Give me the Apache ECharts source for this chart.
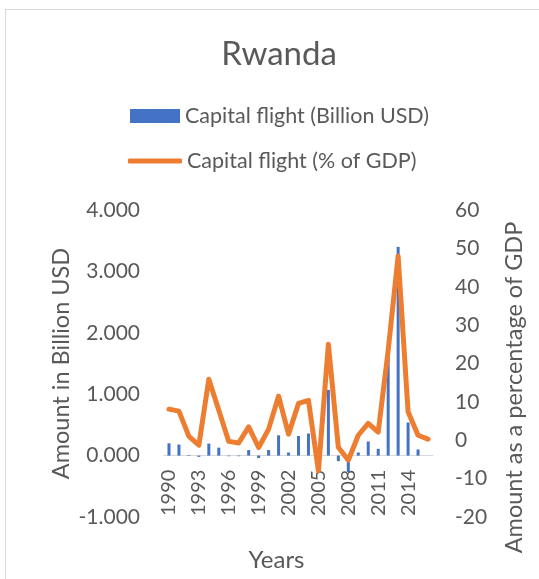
<!DOCTYPE html>
<html>
<head>
<meta charset="utf-8">
<script src="https://cdn.jsdelivr.net/npm/echarts@6/dist/echarts.min.js"></script>
<style>
  html, body { margin: 0; padding: 0; background: #fff; }
  #frame { position: absolute; left: 5px; top: 9px; width: 600px; height: 600px; border: 1px solid #d9d9d9; box-sizing: border-box; }
  #chart { position: absolute; left: 0; top: 0; width: 539px; height: 579px; }
</style>
</head>
<body>
<div id="frame"></div>
<div id="chart"></div>
<script>
// Rwanda capital flight, 1990-2016
const years = [1990, 1991, 1992, 1993, 1994, 1995, 1996, 1997, 1998, 1999,
               2000, 2001, 2002, 2003, 2004, 2005, 2006, 2007, 2008, 2009,
               2010, 2011, 2012, 2013, 2014, 2015, 2016];

// Capital flight in billion USD (left axis)
const flightUsd = [0.20, 0.18, 0.01, -0.02, 0.195, 0.13, -0.01, -0.01, 0.09, -0.04,
                   0.09, 0.33, 0.05, 0.32, 0.36, -0.15, 1.07, -0.09, -0.27, 0.05,
                   0.23, 0.11, 1.60, 3.40, 0.54, 0.10, 0.0];

// Capital flight as % of GDP (right axis)
const flightPct = [8.1, 7.6, 1.0, -1.3, 15.9, 7.8, -0.3, -0.7, 3.5, -1.9,
                   2.9, 11.5, 1.6, 9.6, 10.4, -8.0, 25.0, -1.8, -5.2, 1.3,
                   4.4, 2.1, 23.4, 48.0, 7.4, 1.3, 0.3];

// Left axis range: the category axis sits on its zero line
const usdMin = -1, usdMax = 4, usdStep = 1;
const pctMin = -20, pctMax = 60, pctStep = 10;

const FONT = 'Lato, "Open Sans", sans-serif';
const GREY = '#595959';
const BLUE = '#4472C4';
const ORANGE = '#ED7D31';

const GRID = { left: 164, right: 106, top: 210, bottom: 62 };
const plotHeight = 579 - GRID.top - GRID.bottom;
// distance from the bottom of the plot up to the zero of the left axis
const zeroLift = plotHeight * (0 - usdMin) / (usdMax - usdMin);

const legendText = { fontFamily: FONT, fontSize: 21.5, color: GREY };

const chart = echarts.init(document.getElementById('chart'), null, { renderer: 'canvas' });

chart.setOption({
  animation: false,
  backgroundColor: 'transparent',
  title: {
    text: 'Rwanda',
    left: 274,
    textAlign: 'center',
    top: 33,
    textStyle: { fontFamily: FONT, fontSize: 33, fontWeight: 'normal', color: GREY }
  },
  legend: [
    {
      left: 130, top: 105, padding: 0,
      itemWidth: 50, itemHeight: 14, itemGap: 0,
      textStyle: legendText,
      data: [{ name: 'Capital flight (Billion USD)', icon: 'rect' }]
    },
    {
      left: 128, top: 150, padding: 0,
      itemWidth: 54, itemHeight: 5, itemGap: 0,
      textStyle: legendText,
      data: [{ name: 'Capital flight (% of GDP)', icon: 'roundRect', itemStyle: { color: ORANGE } }]
    }
  ],
  grid: Object.assign({ outerBoundsMode: 'none', containLabel: false }, GRID),
  xAxis: {
    type: 'category',
    data: years,
    boundaryGap: true,
    position: 'bottom',
    offset: -zeroLift,
    axisLine: { onZero: false, lineStyle: { color: '#d9d9d9', width: 1 } },
    axisTick: { show: false },
    axisLabel: {
      interval: 2, rotate: 90, margin: 14,
      fontFamily: FONT, fontSize: 20, color: GREY
    },
    name: 'Years',
    nameLocation: 'middle',
    nameGap: 93,
    nameTextStyle: { fontFamily: FONT, fontSize: 24, color: GREY, padding: [0, 44, 0, 0] }
  },
  yAxis: [
    {
      type: 'value',
      min: usdMin, max: usdMax, interval: usdStep,
      splitLine: { show: false },
      axisLine: { show: false },
      axisTick: { show: false },
      axisLabel: {
        margin: 24, fontFamily: FONT, fontSize: 21, color: GREY,
        formatter: v => v.toFixed(3)
      },
      name: 'Amount in Billion USD',
      nameLocation: 'middle',
      nameRotate: 90,
      nameGap: 91,
      nameTextStyle: { fontFamily: FONT, fontSize: 23.5, color: GREY }
    },
    {
      type: 'value',
      min: pctMin, max: pctMax, interval: pctStep,
      splitLine: { show: false },
      axisLine: { show: false },
      axisTick: { show: false },
      axisLabel: { margin: 22, fontFamily: FONT, fontSize: 21, color: GREY },
      name: 'Amount as a percentage of GDP',
      nameLocation: 'middle',
      nameRotate: 90,
      nameGap: 69,
      nameTextStyle: { fontFamily: FONT, fontSize: 23.5, color: GREY, padding: [0, 48, 0, 0] }
    }
  ],
  series: [
    {
      name: 'Capital flight (Billion USD)',
      type: 'bar',
      yAxisIndex: 0,
      data: flightUsd,
      barWidth: 3,
      itemStyle: { color: BLUE }
    },
    {
      name: 'Capital flight (% of GDP)',
      type: 'line',
      yAxisIndex: 1,
      data: flightPct,
      symbol: 'none',
      lineStyle: { color: ORANGE, width: 5, cap: 'round', join: 'round' },
      itemStyle: { color: ORANGE }
    }
  ]
});
</script>
</body>
</html>
